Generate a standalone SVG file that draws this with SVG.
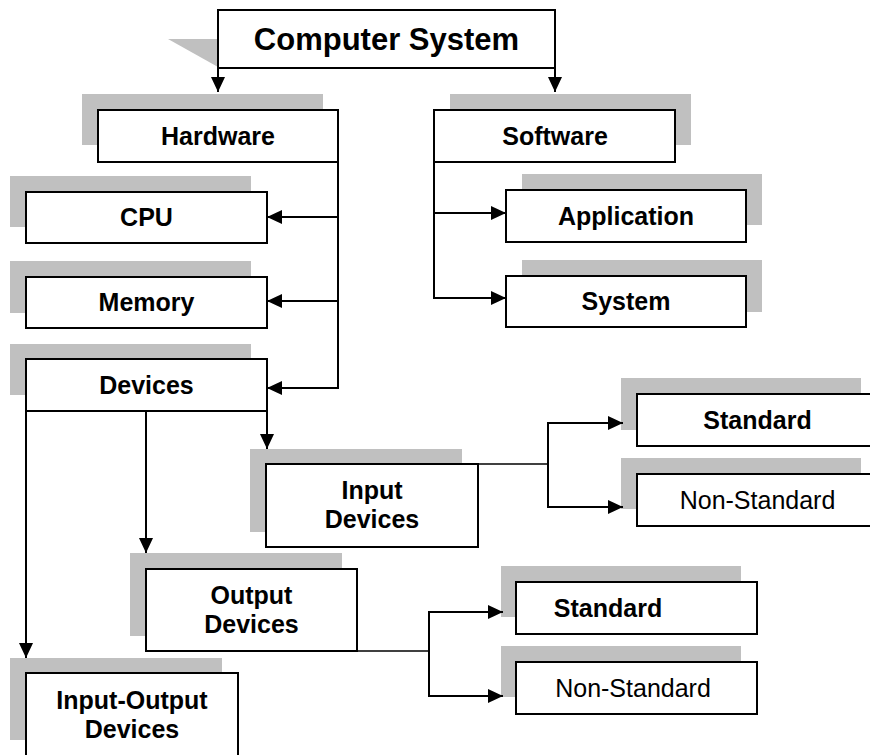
<svg xmlns="http://www.w3.org/2000/svg" width="870" height="755" viewBox="0 0 870 755">
<defs>
<style>
.bx{fill:#fff;stroke:#000;stroke-width:2}
.sh{fill:#c0c0c0;stroke:none}
.t{font-family:"Liberation Sans",Arial,sans-serif;font-weight:bold;font-size:25px;text-anchor:middle;fill:#000}
.tr{font-family:"Liberation Sans",Arial,sans-serif;font-weight:normal;font-size:25px;text-anchor:middle;fill:#000}
.tb{font-family:"Liberation Sans",Arial,sans-serif;font-weight:bold;font-size:31px;text-anchor:middle;fill:#000}
.c{fill:none;stroke:#000;stroke-width:2}
.c1{fill:none;stroke:#000;stroke-width:1.5}
</style>
<marker id="ah" viewBox="0 0 15 14" refX="15" refY="7" markerWidth="15" markerHeight="14" markerUnits="userSpaceOnUse" orient="auto">
<path d="M0,0 L15,7 L0,14 z" fill="#000"/>
</marker>
</defs>
<rect width="870" height="755" fill="#fff"/>

<g id="computer-system">
<polygon class="sh" points="168,39 218,39 218,67"/>
<rect class="bx" x="218" y="10" width="337" height="58"/>
<text class="tb" x="386.5" y="50">Computer System</text>
</g>

<g id="hardware">
<rect class="sh" x="82" y="94" width="241" height="51"/>
<rect class="bx" x="98" y="110" width="240" height="52"/>
<text class="t" x="218" y="145">Hardware</text>
</g>

<g id="software">
<rect class="sh" x="450" y="94" width="241" height="51"/>
<rect class="bx" x="434" y="110" width="241" height="52"/>
<text class="t" x="555" y="145">Software</text>
</g>

<g id="cpu">
<rect class="sh" x="10" y="176" width="241" height="51"/>
<rect class="bx" x="26" y="192" width="241" height="51"/>
<text class="t" x="146.5" y="226">CPU</text>
</g>

<g id="memory">
<rect class="sh" x="10" y="261" width="241" height="52"/>
<rect class="bx" x="26" y="277" width="241" height="51"/>
<text class="t" x="146.5" y="311">Memory</text>
</g>

<g id="devices">
<rect class="sh" x="10" y="344" width="241" height="51"/>
<rect class="bx" x="26" y="359" width="241" height="52"/>
<text class="t" x="146.5" y="394">Devices</text>
</g>

<g id="application">
<rect class="sh" x="522" y="174" width="240" height="51"/>
<rect class="bx" x="506" y="190" width="240" height="52"/>
<text class="t" x="626" y="225">Application</text>
</g>

<g id="system">
<rect class="sh" x="522" y="260" width="240" height="52"/>
<rect class="bx" x="506" y="276" width="240" height="51"/>
<text class="t" x="626" y="310">System</text>
</g>

<g id="input-devices">
<rect class="sh" x="250" y="449" width="212" height="83"/>
<rect class="bx" x="266" y="464" width="212" height="83"/>
<text class="t" x="372" y="499">Input</text>
<text class="t" x="372" y="528">Devices</text>
</g>

<g id="input-standard">
<rect class="sh" x="621" y="378" width="240" height="52"/>
<rect class="bx" x="637" y="394" width="241" height="52"/>
<text class="t" x="757.5" y="429">Standard</text>
</g>

<g id="input-non-standard">
<rect class="sh" x="621" y="458" width="240" height="51"/>
<rect class="bx" x="637" y="474" width="241" height="52"/>
<text class="tr" x="757.5" y="509">Non-Standard</text>
</g>

<g id="output-devices">
<rect class="sh" x="130" y="553" width="212" height="83"/>
<rect class="bx" x="146" y="569" width="211" height="82"/>
<text class="t" x="251.5" y="604">Output</text>
<text class="t" x="251.5" y="633">Devices</text>
</g>

<g id="output-standard">
<rect class="sh" x="501" y="566" width="240" height="51"/>
<rect class="bx" x="516" y="582" width="241" height="52"/>
<text class="t" x="608" y="617">Standard</text>
</g>

<g id="output-non-standard">
<rect class="sh" x="501" y="646" width="240" height="51"/>
<rect class="bx" x="516" y="662" width="241" height="52"/>
<text class="tr" x="633" y="697">Non-Standard</text>
</g>

<g id="input-output-devices">
<rect class="sh" x="10" y="658" width="212" height="82"/>
<rect class="bx" x="26" y="673" width="212" height="90"/>
<text class="t" x="132" y="709">Input-Output</text>
<text class="t" x="132" y="738">Devices</text>
</g>

<g id="connectors">
<path class="c" d="M218,68 V92" marker-end="url(#ah)"/>
<path class="c" d="M555,68 V92" marker-end="url(#ah)"/>
<path class="c" d="M338,217 H267" marker-end="url(#ah)"/>
<path class="c" d="M338,301 H267" marker-end="url(#ah)"/>
<path class="c" d="M338,162 V388 H267" marker-end="url(#ah)"/>
<path class="c" d="M434,213 H506" marker-end="url(#ah)"/>
<path class="c" d="M434,162 V298 H506" marker-end="url(#ah)"/>
<path class="c" d="M26,411 V658" marker-end="url(#ah)"/>
<path class="c" d="M146,411 V553" marker-end="url(#ah)"/>
<path class="c" d="M267,411 V449" marker-end="url(#ah)"/>
<path class="c1" d="M478,464 H548"/>
<path class="c" d="M548,464 V423 H623" marker-end="url(#ah)"/>
<path class="c" d="M548,464 V507 H623" marker-end="url(#ah)"/>
<path class="c1" d="M357,651 H429"/>
<path class="c" d="M429,651 V612 H503" marker-end="url(#ah)"/>
<path class="c" d="M429,651 V696 H503" marker-end="url(#ah)"/>
</g>
</svg>
